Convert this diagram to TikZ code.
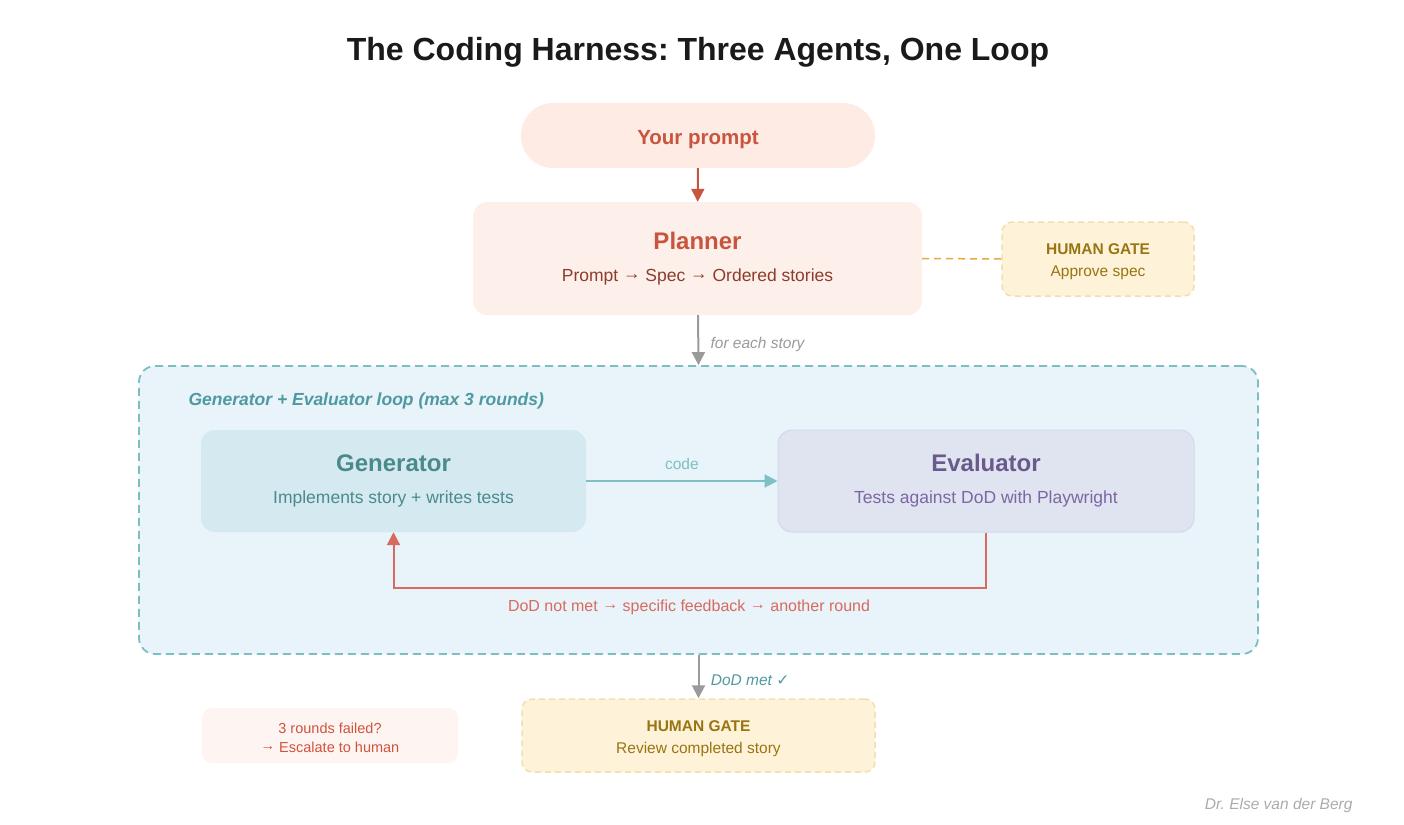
\documentclass[tikz,border=0pt]{standalone}
\usepackage{fontspec}
\setmainfont{Liberation Sans}
\newfontfamily\symfont{DejaVu Sans}
\usetikzlibrary{arrows.meta}
\frenchspacing
\definecolor{cTitle}{HTML}{1A1A1A}
\definecolor{cPromptFill}{HTML}{FDEBE4}
\definecolor{cPlanFill}{HTML}{FDF0EB}
\definecolor{cPlanHead}{HTML}{C8553D}
\definecolor{cPlanSub}{HTML}{8E3B2B}
\definecolor{cGateFill}{HTML}{FEF3D8}
\definecolor{cGateEdge}{HTML}{F3DFAE}
\definecolor{cGateText}{HTML}{9A7413}
\definecolor{cGateLine}{HTML}{E8A93A}
\definecolor{cGray}{HTML}{9A9A9A}
\definecolor{cLoopFill}{HTML}{E8F3FA}
\definecolor{cLoopEdge}{HTML}{7BBFC5}
\definecolor{cLoopText}{HTML}{4E9AA0}
\definecolor{cGenFill}{HTML}{D4EAF0}
\definecolor{cGenText}{HTML}{4A8A8D}
\definecolor{cEvalFill}{HTML}{DFE4F0}
\definecolor{cEvalEdge}{HTML}{D3D9EA}
\definecolor{cEvalHead}{HTML}{6A5A8C}
\definecolor{cEvalSub}{HTML}{7C66A3}
\definecolor{cCode}{HTML}{7DC0C5}
\definecolor{cBack}{HTML}{D96A5E}
\definecolor{cEscFill}{HTML}{FEF4F1}
\definecolor{cEscText}{HTML}{D0533D}
\definecolor{cSign}{HTML}{ABABAB}
\newcommand\arr{\raisebox{0.12em}{→}}
\newcommand\agenthead[2]{{\color{#1}\fontsize{24}{24}\selectfont\bfseries #2}}
\newcommand\agentsub[2]{{\color{#1}\fontsize{17.5}{17.5}\selectfont #2}}
\newcommand\gatetxt[1]{{\color{cGateText}\fontsize{15.5}{15.5}\selectfont\bfseries\rule{0pt}{17pt}HUMAN GATE}\\{\color{cGateText}\fontsize{15.5}{15.5}\selectfont #1}}
\tikzset{
  >={Triangle[length=13pt,width=13pt]},
  agent/.style  ={rounded corners=14pt,align=center,inner sep=0pt,
                  font=\fontsize{17.5}{32}\selectfont},
  gate/.style   ={rounded corners=10pt,fill=cGateFill,draw=cGateEdge,line width=1.5pt,
                  dash pattern=on 6pt off 4pt,align=center,inner sep=0pt,
                  font=\fontsize{15.5}{22}\selectfont},
  loopbox/.style={rounded corners=16pt,fill=cLoopFill,draw=cLoopEdge,line width=1.8pt,
                  dash pattern=on 8pt off 5pt},
  flow/.style   ={->,line width=2pt,cGray},
  code/.style   ={->,line width=2pt,cCode},
  back/.style   ={->,line width=2pt,cBack},
  gateline/.style={cGateLine,line width=1.5pt,dash pattern=on 7pt off 5pt},
}
\begin{document}
\begin{tikzpicture}[x=1pt,y=-1pt]
  \useasboundingbox (0,0) rectangle (1404,824);
  \node[cTitle,font=\fontsize{32}{32}\selectfont\bfseries] (title) at (698,52)
    {The Coding Harness: Three Agents, One Loop};

  % the loop container goes first, it sits behind the agents
  \node[loopbox,minimum width=1119,minimum height=288] (loop) at (698.5,510) {};
  \node[cLoopText,anchor=west,font=\fontsize{17.5}{17.5}\selectfont\bfseries\itshape] (looplbl)
    at (185,401) {Generator + Evaluator loop (max 3 rounds)};

  \node[agent,fill=cPromptFill,rounded corners=32pt,minimum width=354,minimum height=65] (prompt)
    at (698,135.5) {\agenthead{cPlanHead}{\fontsize{20.5}{20.5}\selectfont\rule{0pt}{23pt}Your prompt}};
  \node[agent,fill=cPlanFill,minimum width=449,minimum height=113] (planner) at (697.5,258.5)
    {\agenthead{cPlanHead}{Planner}\\\agentsub{cPlanSub}{Prompt \arr{} Spec \arr{} Ordered stories}};
  \node[gate,minimum width=192,minimum height=74] (gate1) at (1098,259) {\gatetxt{Approve spec}};

  \node[agent,fill=cGenFill,minimum width=385,minimum height=102] (gen) at (393.5,481)
    {\agenthead{cGenText}{Generator}\\\agentsub{cGenText}{Implements story + writes tests}};
  \node[agent,fill=cEvalFill,draw=cEvalEdge,line width=1pt,minimum width=416,minimum height=102] (eval)
    at (986,481) {\agenthead{cEvalHead}{Evaluator}\\\agentsub{cEvalSub}{Tests against DoD with Playwright}};

  \node[gate,minimum width=353,minimum height=73] (gate2) at (698.5,735.5) {\gatetxt{Review completed story}};
  \node[agent,rounded corners=10pt,fill=cEscFill,minimum width=256,minimum height=55,
        font=\fontsize{14.5}{19}\selectfont,text=cEscText] (escalate) at (330,735.5)
    {\rule{0pt}{15pt}3 rounds failed?\\\arr{} Escalate to human};

  \draw[->,line width=2pt,cPlanHead] (prompt) -- (planner);
  \draw[gateline] (planner.east) -- (gate1.west);
  \draw[flow] (planner) -- (loop.north)
    node[midway,right,xshift=8pt,yshift=-4pt,cGray,font=\fontsize{15.5}{15.5}\selectfont\itshape] (storylbl) {for each story};
  \draw[code] (gen) -- (eval)
    node[midway,above,yshift=7pt,cCode,font=\fontsize{15.5}{15.5}\selectfont] (codelbl) {code};
  \draw[back] (eval.south) -- ++(0,55) coordinate (bend) -| (gen.south);
  \node[cBack,font=\fontsize{16}{16}\selectfont] (backlbl) at (689,607)
    {DoD not met \arr{} specific feedback \arr{} another round};
  \draw[flow] (loop.south) -- (gate2)
    node[midway,right,xshift=8pt,yshift=-4pt,cLoopText,font=\fontsize{15.5}{15.5}\selectfont\itshape] (metlbl)
    {DoD met {\symfont ✓}};

  \node[cSign,anchor=east,font=\fontsize{15.5}{15.5}\selectfont\itshape] (sign) at (1356,805) {Dr. Else van der Berg};
\end{tikzpicture}
\end{document}
